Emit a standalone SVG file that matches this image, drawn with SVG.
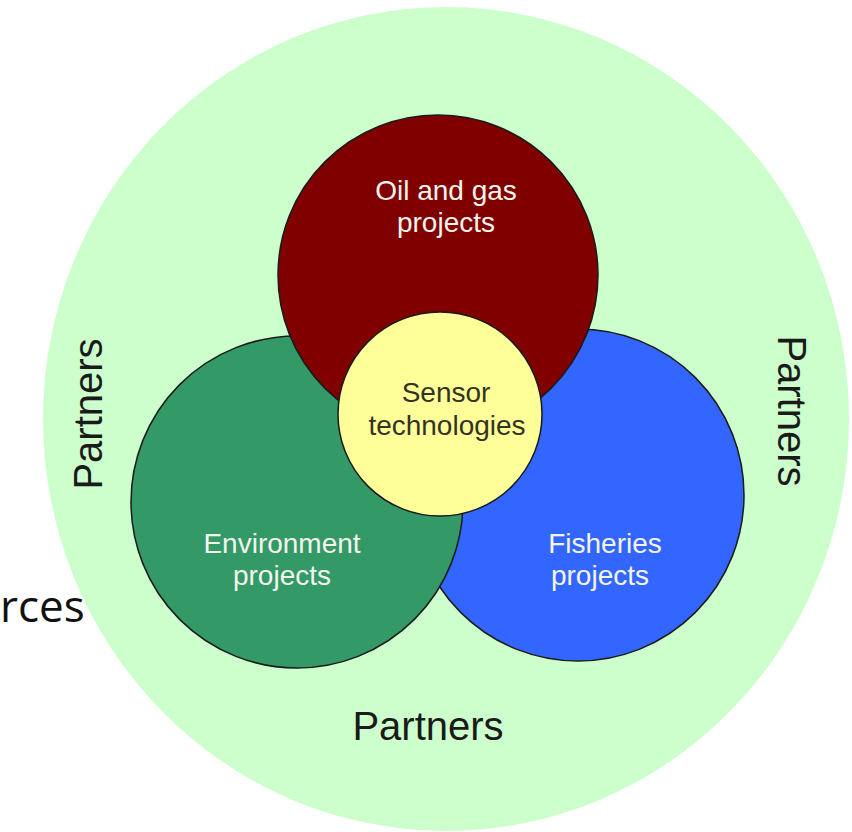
<svg xmlns="http://www.w3.org/2000/svg" width="852" height="832" viewBox="0 0 852 832">
  <style>
    .ring { stroke: #1a1a1a; stroke-width: 1.5; }
    .lbl { font-family: "Liberation Sans", Arial, sans-serif; font-size: 28px; text-anchor: middle; }
    .white { fill: #f4f4ee; }
    .partners { font-family: "Liberation Sans", Arial, sans-serif; font-size: 40px; text-anchor: middle; fill: #1a1a1a; }
  </style>
  <rect x="0" y="0" width="852" height="832" fill="#ffffff"/>
  <g id="partners-area">
    <ellipse cx="446" cy="419" rx="403" ry="412" fill="#ccffcc"/>
    <text class="partners" transform="translate(102,414) rotate(-90)">Partners</text>
    <text class="partners" transform="translate(778,411) rotate(90)">Partners</text>
    <text class="partners" x="428" y="740">Partners</text>
  </g>
  <text x="0" y="622" font-family="'Open Sans', 'Noto Sans', sans-serif" font-size="44" fill="#111111">rces</text>
  <g id="fisheries">
    <circle class="ring" cx="578" cy="495" r="166" fill="#3366ff"/>
    <text class="lbl white" x="605" y="553">Fisheries</text>
    <text class="lbl white" x="600" y="585">projects</text>
  </g>
  <g id="environment">
    <circle class="ring" cx="297" cy="502" r="166" fill="#339966"/>
    <text class="lbl white" x="282" y="553">Environment</text>
    <text class="lbl white" x="282" y="585">projects</text>
  </g>
  <g id="oil-gas">
    <circle class="ring" cx="438" cy="275" r="160" fill="#800000"/>
    <text class="lbl white" x="446" y="200">Oil and gas</text>
    <text class="lbl white" x="446" y="232">projects</text>
  </g>
  <g id="sensor">
    <circle class="ring" cx="440" cy="414" r="102" fill="#ffff99"/>
    <text class="lbl" fill="#333322" x="446" y="402">Sensor</text>
    <text class="lbl" fill="#333322" x="447" y="435">technologies</text>
  </g>
</svg>
